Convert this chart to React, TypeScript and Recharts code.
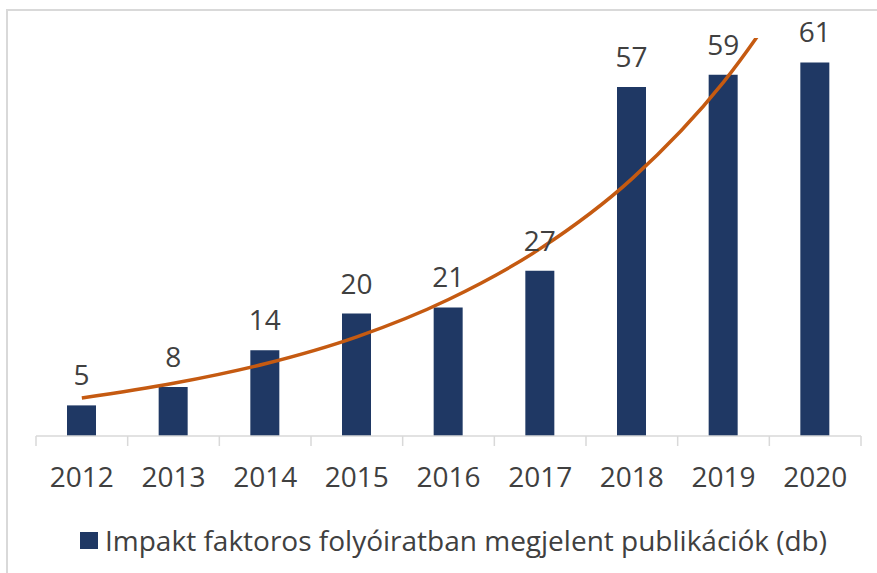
import { Bar, ComposedChart, LabelList, Legend, Line, XAxis, YAxis } from "recharts";

const years = ["2012", "2013", "2014", "2015", "2016", "2017", "2018", "2019", "2020"];
const publications = [5, 8, 14, 20, 21, 27, 57, 59, 61];
// exponential trendline (last point runs off the top)
const trend = [6.2, 8.6, 11.8, 16.2, 22.3, 30.6, 42, 57.8, 79.5];
const seriesName = "Impakt faktoros folyóiratban megjelent publikációk (db)";

const data = years.map((year, i) => ({ year, value: publications[i], trend: trend[i] }));

const W = 877;
const H = 573;
const margin = { top: 38, right: 16, left: 36, bottom: 16 };
const band = (W - margin.left - margin.right) / years.length;
const tickSize = 10;
const tickGap = 41;
const font = "'Open Sans', sans-serif";
const ink = "#404040";
const navy = "#1F3864";
const axisGrey = "#D9D9D9";

function YearTick({ x, y, payload, index }: any) {
  const top = y - tickGap - tickSize;
  return (
    <g>
      <line x1={x - band / 2} x2={x - band / 2} y1={top} y2={top + tickSize} stroke={axisGrey} strokeWidth={1.5} />
      {index === years.length - 1 && (
        <line x1={x + band / 2} x2={x + band / 2} y1={top} y2={top + tickSize} stroke={axisGrey} strokeWidth={1.5} />
      )}
      <text x={x} y={y} textAnchor="middle" fill={ink} fontSize={28} fontFamily={font}>
        {payload.value}
      </text>
    </g>
  );
}

function SeriesLegend() {
  return (
    <div style={{ height: 34, display: "flex", alignItems: "center", justifyContent: "center", fontFamily: font }}>
      <span style={{ width: 18, height: 17, background: navy, marginRight: 7, marginLeft: 10 }} />
      <span style={{ fontSize: 28, color: ink, lineHeight: "34px" }}>{seriesName}</span>
    </div>
  );
}

export default function App() {
  return (
    <div style={{ position: "fixed", left: 0, top: 0, width: W, height: H, overflow: "hidden", background: "#fff" }}>
      <ComposedChart width={W} height={H} data={data} margin={margin} style={{ fontFamily: font }}>
        <XAxis
          dataKey="year"
          height={87}
          axisLine={{ stroke: axisGrey, strokeWidth: 1.5 }}
          tickLine={false}
          tickSize={tickSize}
          tickMargin={tickGap}
          tick={<YearTick />}
          interval={0}
        />
        <YAxis hide domain={[0, 65]} allowDataOverflow />
        <Legend verticalAlign="bottom" content={<SeriesLegend />} />
        <Bar dataKey="value" name={seriesName} fill={navy} barSize={29} isAnimationActive={false}>
          <LabelList dataKey="value" position="top" offset={20} fill={ink} fontSize={28} fontFamily={font} />
        </Bar>
        <Line
          dataKey="trend"
          type="monotone"
          stroke="#C55A11"
          strokeWidth={3.5}
          dot={false}
          legendType="none"
          isAnimationActive={false}
        />
      </ComposedChart>
      <div
        style={{
          position: "absolute",
          left: 6,
          top: 9,
          width: W + 20,
          height: H + 20,
          borderTop: `2px solid ${axisGrey}`,
          borderLeft: `2px solid ${axisGrey}`,
          zIndex: 5,
          pointerEvents: "none"
        }}
      />
    </div>
  );
}
